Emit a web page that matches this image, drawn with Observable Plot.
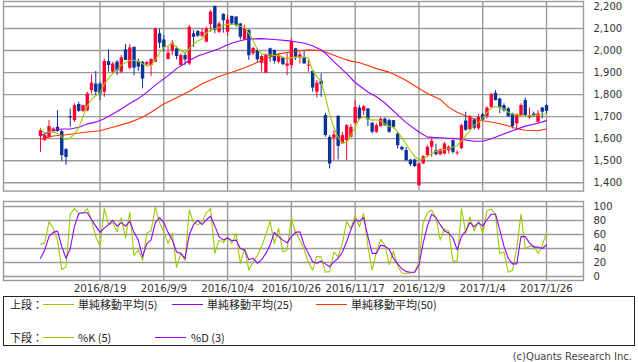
<!DOCTYPE html>
<html><head><meta charset="utf-8">
<script src="https://cdn.jsdelivr.net/npm/d3@7"></script>
<script src="https://cdn.jsdelivr.net/npm/@observablehq/plot@0.6"></script>
<style>
html,body{margin:0;padding:0;background:#fff;}
#root{position:relative;width:638px;height:362px;overflow:hidden;font-family:"DejaVu Sans",sans-serif;background:#fff;}
#topc{position:absolute;left:0;top:0;}
#botc{position:absolute;left:0;top:195px;}
#box{position:absolute;left:3px;top:296px;width:632px;height:50px;border:1px solid #222;box-sizing:border-box;}
.lt{position:absolute;font-family:"Noto Sans CJK JP",sans-serif;font-size:11px;line-height:14px;color:#222;white-space:nowrap;}
.ll{position:absolute;height:1px;width:31px;}
#cap{position:absolute;right:6px;top:350px;font-size:10px;line-height:13px;color:#444;font-family:"DejaVu Sans",sans-serif;}
</style></head>
<body><div id="root"><div id="topc"></div><div id="botc"></div><div id="box"></div><div id="cap">(c)Quants Research Inc.</div></div>
<script>
const dates = ["2016/7/29",
"2016/8/1","2016/8/2","2016/8/3","2016/8/4","2016/8/5","2016/8/8","2016/8/9","2016/8/10","2016/8/12",
"2016/8/15","2016/8/16","2016/8/17","2016/8/18","2016/8/19","2016/8/22","2016/8/23","2016/8/24","2016/8/25","2016/8/26",
"2016/8/29","2016/8/30","2016/8/31","2016/9/1","2016/9/2","2016/9/5","2016/9/6","2016/9/7","2016/9/8","2016/9/9",
"2016/9/12","2016/9/13","2016/9/14","2016/9/15","2016/9/16","2016/9/20","2016/9/21","2016/9/23",
"2016/9/26","2016/9/27","2016/9/28","2016/9/29","2016/9/30","2016/10/3","2016/10/4",
"2016/10/5","2016/10/6","2016/10/7","2016/10/11","2016/10/12","2016/10/13","2016/10/14",
"2016/10/17","2016/10/18","2016/10/19","2016/10/20","2016/10/21","2016/10/24","2016/10/25","2016/10/26",
"2016/10/27","2016/10/28","2016/10/31","2016/11/1","2016/11/2","2016/11/4",
"2016/11/7","2016/11/8","2016/11/9","2016/11/10","2016/11/11","2016/11/14","2016/11/15","2016/11/16","2016/11/17",
"2016/11/18","2016/11/21","2016/11/22","2016/11/24","2016/11/25",
"2016/11/28","2016/11/29","2016/11/30","2016/12/1","2016/12/2","2016/12/5","2016/12/6","2016/12/7","2016/12/8","2016/12/9",
"2016/12/12","2016/12/13","2016/12/14","2016/12/15","2016/12/16","2016/12/19","2016/12/20","2016/12/21","2016/12/22",
"2016/12/26","2016/12/27","2016/12/28","2016/12/29","2016/12/30","2017/1/4",
"2017/1/5","2017/1/6","2017/1/10","2017/1/11","2017/1/12","2017/1/13",
"2017/1/16","2017/1/17","2017/1/18","2017/1/19","2017/1/20","2017/1/23","2017/1/24","2017/1/25","2017/1/26"];

const open  = [1609,1592,1606,1630,1652,1632,1550,1700,1682,1755,1724,1727,1818,1848,1848,1811,1950,1902,1947,1902,
2003,1920,2015,1950,1947,1935,1932,1947,2076,2048,1959,1997,2008,1932,1977,1939,2076,2086,2065,2038,
2118,2200,2083,2164,2083,2155,2152,2121,2048,2091,1985,2000,1942,1897,2008,2000,1947,1966,1929,1932,
2008,1966,1966,1929,1906,1811,1861,1705,1606,1602,1701,1576,1591,1606,1670,1739,1725,1735,1670,1629,
1655,1689,1682,1682,1621,1561,1546,1503,1503,1386,1485,1523,1561,1545,1527,1530,1545,1591,1532,1555,
1680,1641,1685,1645,1709,1700,1742,1806,1780,1750,1735,1712,1667,1705,1773,1694,1712,1674,1739,1750];
const high  = [1647,1621,1682,1650,1727,1640,1555,1735,1758,1765,1752,1811,1890,1905,1856,1962,2003,1947,1955,1977,
2027,2027,2015,1962,1950,1950,1962,2101,2098,2068,2015,2045,2018,1985,1992,2114,2091,2091,2100,2106,
2182,2202,2129,2167,2159,2156,2153,2122,2114,2094,2015,2008,1977,1985,2011,2003,1985,1970,1985,2053,
2009,1992,1997,1955,1907,1864,1894,1715,1614,1636,1705,1629,1664,1664,1773,1750,1750,1736,1674,1667,
1694,1694,1689,1683,1629,1564,1561,1506,1508,1488,1523,1568,1606,1575,1553,1583,1568,1594,1545,1664,
1720,1705,1689,1709,1715,1745,1806,1818,1784,1758,1742,1715,1712,1758,1784,1739,1720,1727,1742,1754];
const low   = [1538,1588,1599,1625,1630,1497,1479,1652,1674,1720,1720,1722,1803,1796,1773,1788,1902,1894,1886,1895,
1955,1912,1886,1905,1826,1925,1882,1945,2008,1992,1958,1977,1958,1930,1932,1932,2015,2060,2060,2035,
2083,2076,2076,2079,2064,2114,2106,2048,2045,1955,1977,1947,1902,1897,1947,1939,1939,1932,1886,1917,
1955,1939,1939,1902,1811,1785,1788,1606,1462,1500,1503,1576,1500,1603,1664,1682,1705,1655,1621,1624,
1651,1655,1624,1644,1553,1545,1497,1473,1470,1384,1482,1515,1515,1523,1523,1527,1530,1530,1523,1550,
1633,1638,1640,1638,1682,1689,1735,1771,1713,1720,1697,1644,1644,1700,1697,1689,1697,1670,1690,1712];
const close = [1636,1614,1655,1644,1632,1523,1515,1694,1750,1724,1750,1803,1852,1811,1803,1950,1932,1939,1909,1967,
1955,2012,1920,1925,1871,1945,1960,2098,2033,2012,1988,2033,1973,1977,1958,2106,2060,2065,2083,2098,
2174,2091,2121,2136,2139,2121,2114,2060,2098,1977,2010,1958,1973,1982,1973,1951,1977,1936,1939,2038,
1970,1980,1939,1934,1830,1852,1845,1614,1485,1617,1565,1614,1659,1651,1742,1689,1745,1685,1629,1659,
1689,1659,1629,1651,1568,1549,1500,1482,1473,1485,1518,1561,1588,1527,1549,1576,1561,1538,1536,1659,
1638,1700,1648,1697,1685,1739,1800,1773,1739,1727,1700,1655,1709,1750,1705,1705,1705,1712,1720,1724];

const ma5 = [1644,1626,1630,1632,1624,1608,1596,1603,1622,1650,1700,1748,1778,1795,1808,1848,1874,1895,1912,1935,
1945,1956,1956,1950,1940,1930,1932,1958,1990,2015,2022,2033,2015,2000,1988,2008,2030,2045,2052,2080,
2094,2098,2105,2115,2120,2118,2116,2110,2106,2078,2046,2005,1985,1982,1980,1978,1977,1970,1962,1968,
1970,1970,1970,1967,1908,1882,1860,1790,1710,1648,1605,1580,1584,1615,1652,1690,1700,1690,1684,1686,
1680,1665,1655,1652,1630,1605,1575,1545,1520,1505,1508,1520,1532,1543,1546,1550,1555,1562,1568,1590,
1614,1636,1662,1672,1695,1718,1738,1746,1742,1735,1720,1712,1708,1705,1700,1704,1706,1706,1710,1713];

const ma25Dates = [0,3,5,7,9,11,13,15,17,19,21,23,25,27,30,32,35,37,40,42,44,46,48,50,52,55,58,60,62,64,66,67,69,72,74,77,79,81,84,86,89,91,93,96,98,100,102,104,106,108,111,114,117,119].map(i => dates[i]);
const ma25 = [1614,1636,1644,1644,1652,1667,1675,1690,1712,1735,1760,1782,1810,1843,1886,1918,1955,1975,1995,2008,2026,2040,2049,2053,2054,2050,2045,2040,2033,2022,2003,1988,1950,1895,1855,1812,1790,1762,1708,1673,1630,1607,1605,1602,1600,1594,1588,1588,1600,1614,1636,1657,1670,1682];
const ma50Dates = [0,3,6,10,14,17,21,24,26,29,32,35,38,42,45,48,50,53,56,60,63,66,68,71,73,75,77,79,82,84,86,89,91,94,96,98,101,104,107,110,112,114,117,119].map(i => dates[i]);
const ma50 = [1598,1612,1618,1628,1636,1652,1674,1697,1720,1757,1786,1815,1849,1882,1902,1922,1938,1964,1985,1997,2003,2000,1987,1964,1952,1945,1932,1918,1902,1884,1864,1828,1805,1778,1742,1720,1695,1681,1672,1659,1645,1638,1636,1644];

const pctK = [46,48,78,69,52,10,14,89,97,90,91,97,81,57,43,97,74,77,64,84,55,92,30,38,23,62,65,99,77,64,47,62,13,33,23,95,77,74,78,91,97,33,52,48,57,47,62,19,40,9,21,30,43,60,79,47,69,35,38,84,62,52,38,21,9,29,28,
6,7,35,28,48,78,69,86,71,90,43,9,35,53,45,17,36,15,5,4,5,6,21,77,91,95,84,52,68,65,22,22,97,62,85,65,79,62,94,96,89,33,35,6,9,40,89,40,43,44,33,44,63];
const pctD = [26,38,57,63,65,43,26,40,72,90,91,91,81,72,63,69,74,80,72,77,72,79,63,52,28,47,52,77,84,77,63,52,35,33,26,60,74,80,74,81,86,72,57,52,55,51,52,40,38,24,26,19,24,33,45,63,57,52,48,57,63,64,45,33,21,19,22,
18,14,21,26,35,50,67,81,79,84,57,33,33,45,43,39,26,18,11,7,6,6,16,48,72,89,84,74,65,62,55,38,57,65,77,71,77,72,81,89,89,67,43,26,18,18,57,57,48,42,42,40,45];

const tickDates = ["2016/8/19","2016/9/9","2016/10/4","2016/10/26","2016/11/17","2016/12/9","2017/1/4","2017/1/26"];
const priceTicks = [1400,1500,1600,1700,1800,1900,2000,2100,2200];
const stochTicks = [0,20,40,60,80,100];

const legendTop = ["単純移動平均(5)","単純移動平均(25)","単純移動平均(50)"];
const legendBottom = ["%K (5)","%D (3)"];

const UP = "#ff0033", DOWN = "#0a3399";
const C5 = "#99cc00", C25 = "#9900ff", C50 = "#ff3300";
const GRID = "#9a9a9a";

const candles = dates.map((d, i) => ({date: d, open: open[i], high: high[i], low: low[i], close: close[i], up: close[i] >= open[i]}));
const ma5Data = dates.map((d, i) => ({date: d, v: ma5[i]}));
const ma25Data = ma25Dates.map((d, i) => ({date: d, v: ma25[i]}));
const ma50Data = ma50Dates.map((d, i) => ({date: d, v: ma50[i]}));
const kData = dates.map((d, i) => ({date: d, v: pctK[i]}));
const dData = dates.map((d, i) => ({date: d, v: pctD[i]}));

const xScale = {type: "point", domain: dates, padding: 8.7, align: 0.5};

const topChart = Plot.plot({
  width: 638, height: 192,
  marginLeft: 3, marginRight: 55, marginTop: 1, marginBottom: 1.4,
  style: {fontFamily: "DejaVu Sans", fontSize: "10px", background: "transparent", overflow: "visible"},
  x: {...xScale, axis: null, label: null},
  y: {domain: [1362, 2222.7], axis: null, label: null},
  marks: [
    Plot.gridY(priceTicks, {stroke: GRID, strokeOpacity: 1, strokeWidth: 1.4}),
    Plot.gridX(tickDates, {stroke: GRID, strokeOpacity: 1, strokeWidth: 1.4}),
    Plot.frame({stroke: GRID, strokeWidth: 1.4}),
    Plot.axisY(priceTicks, {anchor: "right", label: null, tickSize: 0, tickPadding: 10, fontSize: 10, fill: "#333", tickFormat: d3.format(",")}),
    Plot.ruleX(candles, {x: "date", y1: "low", y2: "high", stroke: d => d.up ? UP : DOWN, strokeWidth: 1}),
    Plot.ruleX(candles, {x: "date", y1: "open", y2: "close", stroke: d => d.up ? UP : DOWN, strokeWidth: 3.4}),
    Plot.line(ma50Data, {x: "date", y: "v", stroke: C50, strokeWidth: 1.1}),
    Plot.line(ma25Data, {x: "date", y: "v", stroke: C25, strokeWidth: 1.1}),
    Plot.line(ma5Data, {x: "date", y: "v", stroke: C5, strokeWidth: 1.1})
  ]
});
document.getElementById("topc").appendChild(topChart);

const botChart = Plot.plot({
  width: 638, height: 100,
  marginLeft: 3, marginRight: 55, marginTop: 6, marginBottom: 15,
  style: {fontFamily: "DejaVu Sans", fontSize: "10px", background: "transparent", overflow: "visible"},
  x: {...xScale, axis: null, label: null},
  y: {domain: [-5.7, 107.1], axis: null, label: null},
  marks: [
    Plot.gridY(stochTicks, {stroke: GRID, strokeOpacity: 1, strokeWidth: 1.4}),
    Plot.gridX(tickDates, {stroke: GRID, strokeOpacity: 1, strokeWidth: 1.4}),
    Plot.frame({stroke: GRID, strokeWidth: 1.4}),
    Plot.axisY(stochTicks, {anchor: "right", label: null, tickSize: 0, tickPadding: 10, fontSize: 10, fill: "#333"}),
    Plot.axisX(tickDates, {anchor: "bottom", label: null, tickSize: 0, tickPadding: 4, fontSize: 10.3, fill: "#333"}),
    Plot.line(kData, {x: "date", y: "v", stroke: C5, strokeWidth: 1.1}),
    Plot.line(dData, {x: "date", y: "v", stroke: C25, strokeWidth: 1.1})
  ]
});
document.getElementById("botc").appendChild(botChart);

const root = document.getElementById("root");
function addText(txt, x, yc) {
  const s = document.createElement("div");
  s.className = "lt"; s.textContent = txt;
  s.style.left = x + "px"; s.style.top = (yc - 7) + "px";
  root.appendChild(s);
}
function addLine(color, x, yc) {
  const l = document.createElement("div");
  l.className = "ll"; l.style.background = color;
  l.style.left = x + "px"; l.style.top = yc + "px";
  root.appendChild(l);
}
const row1 = 303.5, row2 = 337;
addText("上段：", 10, row1);
[[C5, 43, 78], [C25, 172, 207], [C50, 316, 351]].forEach((p, i) => { addLine(p[0], p[1], row1); addText(legendTop[i], p[2], row1); });
addText("下段：", 10, row2);
[[C5, 43, 78], [C25, 155, 191]].forEach((p, i) => { addLine(p[0], p[1], row2); addText(legendBottom[i], p[2], row2); });
</script>
</body></html>
